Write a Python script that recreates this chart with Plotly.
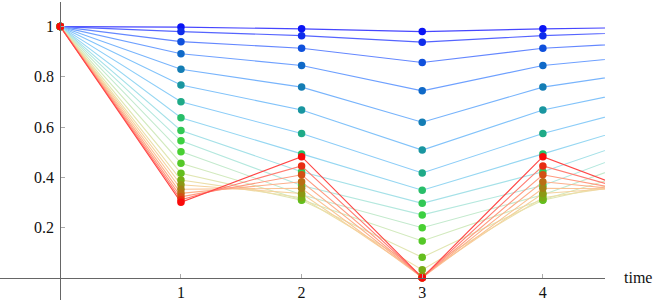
import plotly.graph_objects as go

# time steps
time = [0, 1, 2, 3, 4, 5]

# values, one entry per series (blue -> red)
p_t0 = [1.0] * 20
p_t1 = [0.998, 0.980, 0.940, 0.892, 0.830, 0.767, 0.701, 0.637, 0.586, 0.545,
        0.502, 0.456, 0.416, 0.389, 0.370, 0.352, 0.336, 0.322, 0.310, 0.300]
p_t2 = [0.991, 0.964, 0.914, 0.845, 0.759, 0.668, 0.574, 0.493, 0.422, 0.367,
        0.330, 0.310, 0.308, 0.318, 0.335, 0.356, 0.382, 0.410, 0.445, 0.482]
p_t3 = [0.980, 0.938, 0.857, 0.744, 0.619, 0.508, 0.417, 0.348, 0.296, 0.250,
        0.199, 0.146, 0.081, 0.031, 0.008, 0.0, 0.0, 0.0, 0.0, 0.0]
p_t4 = [0.991, 0.964, 0.914, 0.845, 0.759, 0.668, 0.574, 0.493, 0.422, 0.367,
        0.330, 0.310, 0.308, 0.318, 0.335, 0.356, 0.382, 0.410, 0.445, 0.482]
p_t5 = [0.998, 0.980, 0.940, 0.892, 0.830, 0.767, 0.701, 0.637, 0.586, 0.545,
        0.502, 0.456, 0.416, 0.389, 0.370, 0.352, 0.336, 0.322, 0.310, 0.300]

x_tick_vals = [1, 2, 3, 4]
x_tick_text = ["1", "2", "3", "4"]
y_tick_vals = [0.2, 0.4, 0.6, 0.8, 1.0]
y_tick_text = ["0.2", "0.4", "0.6", "0.8", "1"]

dot_colors = [
    "rgb(10,20,245)", "rgb(15,45,235)", "rgb(15,80,220)", "rgb(15,105,200)",
    "rgb(20,125,180)", "rgb(25,150,160)", "rgb(30,170,135)", "rgb(40,190,105)",
    "rgb(50,200,85)", "rgb(60,208,65)", "rgb(72,208,50)", "rgb(85,200,40)",
    "rgb(100,190,30)", "rgb(120,172,22)", "rgb(140,152,20)", "rgb(160,130,20)",
    "rgb(185,110,20)", "rgb(210,80,20)", "rgb(232,45,20)", "rgb(250,10,10)",
]
line_colors = [
    "rgb(70,70,255)", "rgb(85,100,255)", "rgb(100,135,255)", "rgb(110,160,255)",
    "rgb(120,180,252)", "rgb(130,195,250)", "rgb(140,205,248)", "rgb(150,215,242)",
    "rgb(165,225,232)", "rgb(180,232,222)", "rgb(195,234,205)", "rgb(210,234,190)",
    "rgb(225,230,178)", "rgb(236,222,168)", "rgb(245,210,158)", "rgb(250,195,148)",
    "rgb(252,175,138)", "rgb(255,155,128)", "rgb(255,125,115)", "rgb(255,70,70)",
]

n = len(p_t1)
fig = go.Figure()
series = [[p_t0[i], p_t1[i], p_t2[i], p_t3[i], p_t4[i], p_t5[i]] for i in range(n)]

for i in range(n):
    fig.add_trace(go.Scatter(x=time, y=series[i], mode="lines",
                             line=dict(color=line_colors[i], width=1.1),
                             showlegend=False, hoverinfo="skip"))
for i in range(n):
    fig.add_trace(go.Scatter(x=time, y=series[i], mode="markers",
                             marker=dict(color=dot_colors[i], size=7.5, line=dict(width=0)),
                             showlegend=False, hoverinfo="skip"))

font = dict(family="Liberation Serif", size=16, color="#111")
ymin, ymax = -0.089, 1.098
fig.update_layout(
    width=654, height=304,
    margin=dict(l=0, r=49, t=2, b=4, autoexpand=False),
    paper_bgcolor="white", plot_bgcolor="white",
    font=font,
    xaxis=dict(range=[-0.5, 4.515], showgrid=False, zeroline=False, automargin=False,
               showline=True, linecolor="#666", linewidth=1,
               anchor="free", position=(0 - ymin) / (ymax - ymin),
               tickvals=x_tick_vals, ticktext=x_tick_text,
               ticks="inside", ticklen=4, tickcolor="#aaa", tickwidth=1,
               ticklabelstandoff=0, tickfont=font),
    yaxis=dict(range=[ymin, ymax], showgrid=False, zeroline=False, automargin=False,
               showline=True, linecolor="#666", linewidth=1,
               anchor="free", position=0.5 / 5.015,
               tickvals=y_tick_vals, ticktext=y_tick_text,
               ticks="inside", ticklen=4, tickcolor="#aaa", tickwidth=1,
               ticklabelstandoff=3, tickfont=font),
    annotations=[dict(text="time", xref="paper", yref="y", x=1, y=0,
                      xanchor="left", yanchor="middle", xshift=17,
                      showarrow=False, font=font)],
)
fig.write_html("out.html", config={"displayModeBar": False},
               post_script="document.body.style.margin='0px';document.body.style.padding='0px';")
